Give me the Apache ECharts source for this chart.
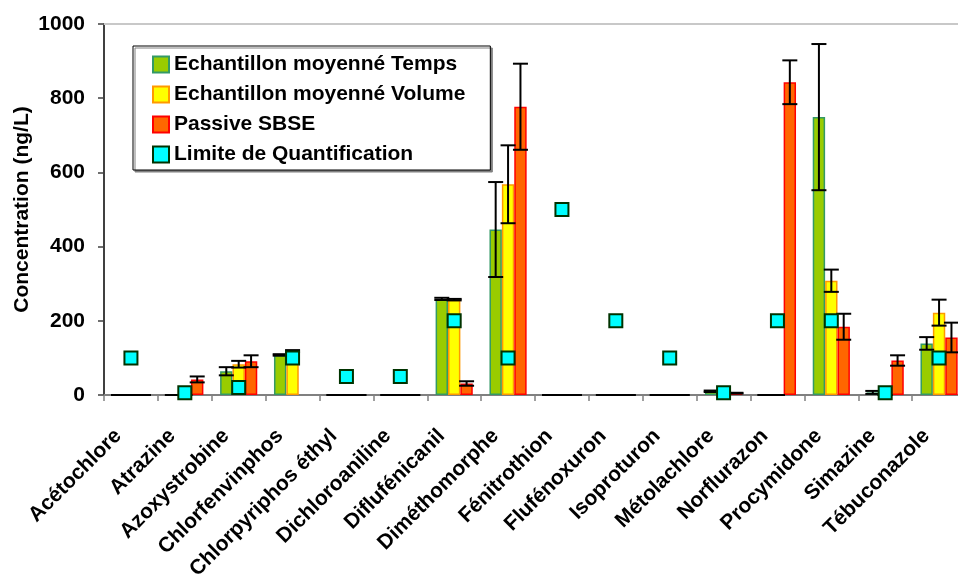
<!DOCTYPE html>
<html>
<head>
<meta charset="utf-8">
<script src="https://cdn.jsdelivr.net/npm/echarts@6/dist/echarts.min.js"></script>
<style>html,body{margin:0;padding:0;background:#fff;}#c{width:958px;height:578px;}</style>
</head>
<body>
<div id="c"></div>
<script>
const categories = ['Acétochlore','Atrazine','Azoxystrobine','Chlorfenvinphos','Chlorpyriphos éthyl','Dichloroaniline','Diflufénicanil','Diméthomorphe','Fénitrothion','Flufénoxuron','Isoproturon','Métolachlore','Norflurazon','Procymidone','Simazine','Tébuconazole'];
const seriesNames = ['Echantillon moyenné Temps','Echantillon moyenné Volume','Passive SBSE','Limite de Quantification'];
const tempsValues  = [0, 0, 64, 108, 0, 0, 259, 446, 0, 0, 0, 10, 0, 749, 7, 139];
const tempsErrors  = [0, 0, 11, 2, 0, 0, 3, 128, 0, 0, 0, 2, 0, 197, 4, 17];
const volumeValues = [0, 0, 83, 118, 0, 0, 257, 568, 0, 0, 0, 7, 0, 308, 0, 222];
const volumeErrors = [0, 0, 9, 3, 0, 0, 2, 105, 0, 0, 0, 1, 0, 30, 0, 35];
const sbseValues   = [0, 42, 91, null, 0, 0, 31, 777, 0, 0, 0, 5, 843, 184, 93, 155];
const sbseErrors   = [0, 8, 16, null, 0, 0, 6, 116, 0, 0, 0, 1, 59, 35, 14, 40];
const loqValues    = [100, 6, 20, 100, 50, 50, 200, 100, 500, 200, 100, 6, 200, 200, 6, 100];
const yTicks = [0, 200, 400, 600, 800, 1000];

const FONT = 'Liberation Sans, Arial, sans-serif';
const BAR_GAP_FRAC = 0.31;

function errSeries(idx, vals, errs) {
  const data = [];
  vals.forEach((v, i) => { if (v !== null && errs[i] !== null) data.push([i, v, errs[i]]); });
  return {
    type: 'custom',
    z: 5,
    silent: true,
    renderItem: function (params, api) {
      const c = api.value(0), v = api.value(1), e = api.value(2);
      const band = api.size([1, 0])[0];
      const bw = band * (1 - BAR_GAP_FRAC) / 3;
      const x = api.coord([c, 0])[0] + (idx - 1) * bw;
      const yHi = api.coord([c, v + e])[1];
      const yLo = api.coord([c, Math.max(v - e, 0)])[1];
      const hw = 7.5;
      const st = { stroke: '#000', lineWidth: 2 };
      return {
        type: 'group',
        children: [
          { type: 'line', shape: { x1: x, y1: yHi, x2: x, y2: yLo }, style: st },
          { type: 'line', shape: { x1: x - hw, y1: yHi, x2: x + hw, y2: yHi }, style: st },
          { type: 'line', shape: { x1: x - hw, y1: yLo, x2: x + hw, y2: yLo }, style: st }
        ]
      };
    },
    data: data
  };
}

const chart = echarts.init(document.getElementById('c'), null, { renderer: 'canvas' });
chart.setOption({
  backgroundColor: '#fff',
  animation: false,
  textStyle: { fontFamily: FONT },
  grid: { left: 104, top: 24, height: 371, width: 862, containLabel: false, outerBoundsMode: 'none' },
  legend: {
    orient: 'vertical',
    left: 133,
    top: 46,
    padding: [8, 25, 5, 19],
    itemGap: 9,
    itemWidth: 16,
    itemHeight: 16,
    icon: 'rect',
    backgroundColor: '#fff',
    borderColor: '#000',
    borderWidth: 1,
    shadowColor: '#808080',
    shadowOffsetX: 2,
    shadowOffsetY: 2,
    shadowBlur: 0,
    textStyle: { fontFamily: FONT, fontSize: 21, fontWeight: 'bold', color: '#000' },
    data: seriesNames
  },
  xAxis: [{
    type: 'category',
    data: categories,
    axisLine: { lineStyle: { color: '#808080', width: 2 } },
    axisTick: { show: true, length: 6, lineStyle: { color: '#808080', width: 1.5 } },
    axisLabel: { interval: 0, rotate: 45, margin: 25, padding: [0, 18, 0, 0], color: '#000', fontSize: 21, fontWeight: 'bold', fontFamily: FONT }
  }, {
    type: 'category',
    position: 'top',
    data: categories,
    axisLine: { lineStyle: { color: '#c8c8c8', width: 2 } },
    axisTick: { show: false },
    axisLabel: { show: false }
  }],
  yAxis: {
    type: 'value',
    min: 0, max: 1000, interval: 200,
    name: 'Concentration (ng/L)',
    nameLocation: 'middle',
    nameGap: 71,
    nameMoveOverlap: false,
    nameTextStyle: { fontFamily: FONT, fontSize: 21, fontWeight: 'bold', color: '#000' },
    axisLine: { show: true, lineStyle: { color: '#404040', width: 2 } },
    axisTick: { show: true, length: 6, lineStyle: { color: '#404040', width: 1.5 } },
    splitLine: { show: false },
    axisLabel: { margin: 19, color: '#000', fontSize: 21, fontWeight: 'bold', fontFamily: FONT,
      formatter: v => yTicks.includes(v) ? String(v) : '' }
  },
  series: [
    { name: seriesNames[0], type: 'bar', data: tempsValues, barGap: '0%', barCategoryGap: (BAR_GAP_FRAC * 100) + '%',
      itemStyle: { color: '#99CC00', borderColor: '#339966', borderWidth: 1.5 } },
    { name: seriesNames[1], type: 'bar', data: volumeValues, barGap: '0%', barCategoryGap: (BAR_GAP_FRAC * 100) + '%',
      itemStyle: { color: '#FFFF00', borderColor: '#FF9900', borderWidth: 1.5 } },
    { name: seriesNames[2], type: 'bar', data: sbseValues, barGap: '0%', barCategoryGap: (BAR_GAP_FRAC * 100) + '%',
      itemStyle: { color: '#FF6600', borderColor: '#FF0000', borderWidth: 1.5 } },
    errSeries(0, tempsValues, tempsErrors),
    errSeries(1, volumeValues, volumeErrors),
    errSeries(2, sbseValues, sbseErrors),
    { name: seriesNames[3], type: 'scatter', z: 10, data: loqValues, symbol: 'rect', symbolSize: 13,
      itemStyle: { color: '#00FFFF', borderColor: '#003300', borderWidth: 2, opacity: 1 } }
  ]
});
</script>
</body>
</html>
